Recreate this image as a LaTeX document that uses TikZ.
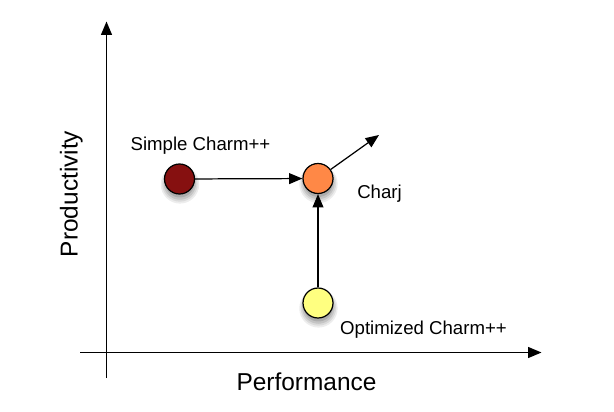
\documentclass[tikz,border=0pt]{standalone}
\usepackage{fontspec}
\setmainfont{Liberation Sans}
\usetikzlibrary{arrows.meta,shadows}

\tikzset{
    softshadow/.style={
        drop shadow={shadow xshift=0.2pt,shadow yshift=-2.4pt,shadow scale=1.28,fill=black,opacity=0.07},
        drop shadow={shadow xshift=0.2pt,shadow yshift=-2.4pt,shadow scale=1.18,fill=black,opacity=0.08},
        drop shadow={shadow xshift=0.2pt,shadow yshift=-2.4pt,shadow scale=1.08,fill=black,opacity=0.1},
        drop shadow={shadow xshift=0.2pt,shadow yshift=-2.2pt,shadow scale=0.98,fill=black,opacity=0.12}},
}

\begin{document}
\begin{tikzpicture}[
        >={Triangle[length=7.6pt,width=6.2pt]},
        dot/.style={circle,draw=black,line width=0.7pt,minimum size=0.6cm,inner sep=0pt,softshadow},
        lbl/.style={anchor=base,font=\fontsize{10.6}{12}\selectfont},
        axlbl/.style={anchor=base,font=\fontsize{13.9}{16}\selectfont},
        every edge/.style={draw=black,line width=0.7pt},
    ]
    \useasboundingbox (0,0) rectangle (12.28,8.22);
    % axes
    \coordinate (ybot) at (2.13,0.66);
    \coordinate (ytop) at (2.13,7.79);
    \coordinate (xleft) at (1.60,1.17);
    \coordinate (xright) at (10.83,1.17);
    \draw[->,line width=0.7pt] (ybot) -- (ytop);
    \draw[->,line width=0.7pt] (xleft) -- (xright);
    \node[axlbl,rotate=90] (prod) at (1.55,4.34) {Productivity};
    \node[axlbl] (perf) at (6.13,0.42) {Performance};

    % points
    \coordinate (next) at (7.58,5.52);
    \node[dot,fill={rgb,255:red,134;green,16;blue,16}] (Simple) at (3.59,4.64) {};
    \node[dot,fill={rgb,255:red,255;green,136;blue,70}] (Charj) at (6.36,4.65) {}
                edge [<-] (Simple)
                edge [->] (next);
    \node[dot,fill={rgb,255:red,255;green,255;blue,128}] (Opt) at (6.36,2.16) {}
                edge [->] (Charj);
    \node[lbl] (SimpleLbl) at (4.01,5.22) {Simple Charm++};
    \node[lbl] (CharjLbl) at (7.59,4.25) {Charj};
    \node[lbl] (OptLbl) at (8.47,1.53) {Optimized Charm++};
\end{tikzpicture}
\end{document}
